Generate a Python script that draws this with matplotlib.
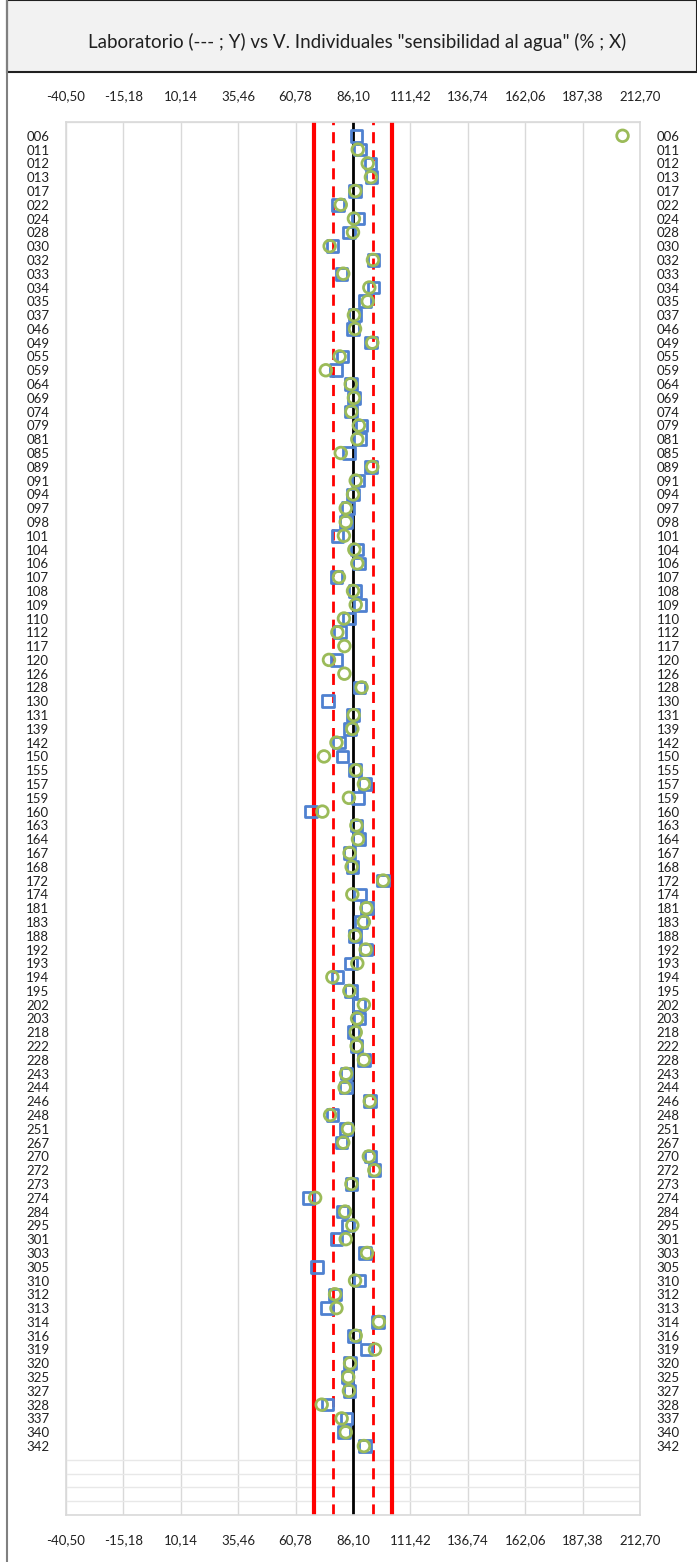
import matplotlib
matplotlib.use("Agg")
import matplotlib.pyplot as plt
import numpy as np
from matplotlib.patches import Rectangle
from matplotlib.lines import Line2D

plt.rcParams['font.family'] = ['Lato', 'DejaVu Sans']

labs = ["006","011","012","013","017","022","024","028","030","032","033","034","035","037","046","049",
        "055","059","064","069","074","079","081","085","089","091","094","097","098","101","104","106",
        "107","108","109","110","112","117","120","126","128","130","131","139","142","150","155","157",
        "159","160","163","164","167","168","172","174","181","183","188","192","193","194","195","202",
        "203","218","222","228","243","244","246","248","251","267","270","272","273","274","284","295",
        "301","303","305","310","312","313","314","316","319","320","325","327","328","337","340","342"]

nan = np.nan
sq = [87.6, 89.2, 93.9, 94.3, 87.1, 79.5, 88.4, 84.3, 77.0, 95.2, 81.1, 95.1, 91.5, 87.1, 86.1, 94.0,
      81.4, 78.5, 85.1, 86.5, 85.1, 89.8, 89.2, 84.3, 94.0, 88.4, 86.1, 84.0, 82.9, 79.2, 88.0, 88.7,
      78.8, 87.0, 89.2, 84.3, 80.4, nan, 78.8, nan, 89.0, 75.1, 86.1, 84.8, 79.9, 81.4, 87.0, 91.4,
      88.2, 67.5, 87.7, 88.7, 84.6, 85.8, 99.4, 89.3, 92.4, 89.5, 87.0, 91.7, 85.1, 79.2, 85.1, 88.7,
      89.0, 86.4, 87.7, 90.9, 83.3, 82.9, 93.5, 77.0, 82.9, 81.0, 93.9, 95.6, 85.4, 66.4, 81.4, 83.8,
      78.8, 91.4, 70.2, 89.0, 78.2, 74.5, 97.1, 86.5, 92.0, 84.8, 83.6, 84.6, 74.8, 83.3, 82.1, 91.4]
ci = [205.0, 88.2, 92.6, 94.0, 87.1, 80.7, 86.5, 86.1, 75.8, 94.9, 81.8, 93.3, 92.6, 86.5, 87.0, 94.6,
      80.2, 74.1, 85.1, 86.5, 85.4, 88.7, 88.0, 80.7, 94.6, 87.3, 86.1, 82.9, 82.9, 82.1, 86.7, 88.0,
      79.9, 86.1, 87.3, 82.1, 79.2, 82.3, 75.5, 82.3, 89.9, nan, 86.4, 85.8, 78.8, 73.3, 87.4, 90.9,
      84.3, 72.6, 87.6, 88.3, 84.6, 85.5, 99.4, 85.8, 92.0, 90.9, 87.0, 91.7, 88.0, 77.0, 84.5, 90.9,
      87.9, 87.3, 87.7, 90.9, 83.0, 82.4, 93.5, 76.0, 83.9, 81.8, 93.1, 95.5, 85.4, 69.4, 82.6, 85.8,
      82.9, 92.3, nan, 87.0, 78.2, 78.8, 97.5, 87.3, 95.8, 84.8, 84.0, 84.3, 72.3, 81.1, 82.9, 90.9]

xticks = [-40.50, -15.18, 10.14, 35.46, 60.78, 86.10, 111.42, 136.74, 162.06, 187.38, 212.70]
center = 86.10
lim_inner = [77.3, 94.9]
lim_outer = [68.9, 103.3]

W, H = 697, 1562
fig = plt.figure(figsize=(W/100, H/100), dpi=100)

# frame and title box
fig.add_artist(Line2D([7/W, 7/W], [0, 1], transform=fig.transFigure, color='#808080', lw=1.5))
fig.add_artist(Rectangle((7/W, 1-72/H), (W-7)/W, 72/H, transform=fig.transFigure,
                         facecolor='#f2f2f2', edgecolor='#202020', lw=1.5))
fig.text(357/W, 1-42/H, 'Laboratorio (--- ; Y) vs V. Individuales "sensibilidad al agua" (% ; X)',
         ha='center', va='center', fontsize=13.5, color='#202020')

ax = fig.add_axes([66/W, 1-1515/H, (640-66)/W, (1515-122)/H])
ys = np.arange(1, len(labs)+1)

ax.set_xlim(xticks[0], xticks[-1])
ax.set_ylim(101, 0)
ax.set_xticks(xticks)
ax.set_xticklabels([f"{v:.2f}".replace('.', ',') for v in xticks])
ax.set_yticks(ys)
ax.set_yticklabels(labs)
ax.set_yticks(np.arange(0, 102), minor=True)
ax.tick_params(axis='y', which='minor', length=0)
ax.tick_params(axis='x', which='both', length=0, labelsize=9.5, top=True, labeltop=True,
               bottom=True, labelbottom=True, pad=14, colors='#202020')
ax.tick_params(axis='y', which='major', length=0, labelsize=9.5, left=True, right=True,
               labelleft=True, labelright=True, pad=12, colors='#202020')
ax.grid(axis='x', which='major', color='#d9d9d9', lw=1)
ax.grid(axis='y', which='minor', color='#e8e8e8', lw=1)
ax.set_axisbelow(True)
for s in ax.spines.values():
    s.set_color('#d9d9d9')
    s.set_linewidth(1.2)

ax.axvline(center, color='black', lw=2, zorder=2)
for v in lim_inner:
    ax.axvline(v, color='#ff0000', lw=2, ls=(0, (4, 2.5)), zorder=2)
for v in lim_outer:
    ax.axvline(v, color='#ff0000', lw=3, zorder=2)

ax.scatter(sq, ys, marker='s', s=70, facecolors='none', edgecolors='#4f81d0', linewidths=2, zorder=3)
ax.scatter(ci, ys, marker='o', s=70, facecolors='none', edgecolors='#9bbb59', linewidths=2, zorder=4)

fig.savefig('out.png', dpi=100)
